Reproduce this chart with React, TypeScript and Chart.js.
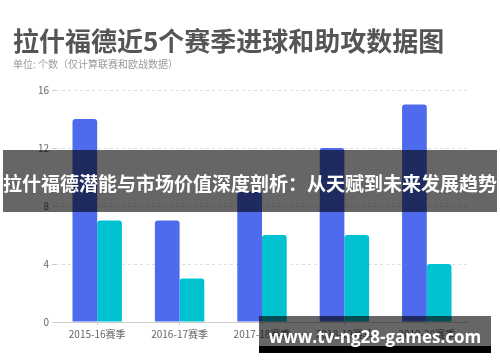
import React, { useEffect, useRef } from "react";
import { Chart, registerables } from "chart.js";

Chart.register(...registerables);

const seasons = ["2015-16赛季", "2016-17赛季", "2017-18赛季", "2018-19赛季", "2019-20赛季"];
const goals = [14, 7, 9, 12, 15];
const assists = [7, 3, 6, 6, 4];
const yTicks = [0, 4, 8, 12, 16];

const titleText = "拉什福德近5个赛季进球和助攻数据图";
const subtitleText = "单位: 个数（仅计算联赛和欧战数据）";
const bannerText = "拉什福德潜能与市场价值深度剖析：从天赋到未来发展趋势";
const siteText = "www.tv-ng28-games.com";

const CJK = '"Noto Sans CJK SC", "Noto Sans", sans-serif';

export default function App() {
  const ref = useRef<HTMLCanvasElement | null>(null);

  useEffect(() => {
    document.body.style.margin = "0";
    const canvas = ref.current;
    if (!canvas) return;
    const chart = new Chart(canvas, {
      type: "bar",
      data: {
        labels: seasons,
        datasets: [
          {
            label: "进球",
            data: goals,
            backgroundColor: "#4F6BED",
            borderRadius: { topLeft: 3, topRight: 3, bottomLeft: 0, bottomRight: 0 },
            borderSkipped: false,
            categoryPercentage: 0.6,
            barPercentage: 1.0,
          },
          {
            label: "助攻",
            data: assists,
            backgroundColor: "#00C2D1",
            borderRadius: { topLeft: 3, topRight: 3, bottomLeft: 0, bottomRight: 0 },
            borderSkipped: false,
            categoryPercentage: 0.6,
            barPercentage: 1.0,
          },
        ],
      },
      options: {
        animation: false,
        responsive: false,
        maintainAspectRatio: false,
        layout: { padding: { top: 90, right: 32, bottom: 0, left: 0 } },
        plugins: {
          legend: { display: false },
          tooltip: { enabled: false },
          title: { display: false },
        },
        scales: {
          x: {
            grid: {
              display: true,
              drawOnChartArea: false,
              drawTicks: true,
              tickLength: 3,
              offset: false,
              color: "#cccccc",
            },
            border: { display: true, color: "#cccccc", width: 1 },
            ticks: {
              color: "#666666",
              font: { family: CJK, size: 10 },
              padding: 3,
              maxRotation: 0,
              autoSkip: false,
            },
            afterFit: (scale: any) => {
              scale.height = 40;
            },
          },
          y: {
            min: 0,
            max: 16,
            afterBuildTicks: (scale: any) => {
              scale.ticks = yTicks.map((v) => ({ value: v }));
            },
            grid: {
              color: "#dddddd",
              tickLength: 4,
              drawTicks: true,
              tickColor: "#cccccc",
            },
            border: { display: false, dash: [3, 3] },
            ticks: {
              color: "#666666",
              font: { family: CJK, size: 10 },
              padding: 3,
            },
            afterFit: (scale: any) => {
              scale.width = 56;
            },
          },
        },
      },
    });
    return () => chart.destroy();
  }, []);

  return (
    <div style={{ position: "fixed", left: 0, top: 0, width: 500, height: 362, background: "#ffffff", overflow: "hidden" }}>
      <canvas ref={ref} width={500} height={362} style={{ position: "absolute", left: 0, top: 0, width: 500, height: 362 }} />
      <div
        style={{
          position: "absolute",
          left: 13,
          top: 27,
          fontFamily: CJK,
          fontWeight: 700,
          fontSize: 26,
          lineHeight: "26px",
          color: "#555555",
          whiteSpace: "nowrap",
        }}
      >
        {titleText}
      </div>
      <div
        style={{
          position: "absolute",
          left: 13,
          top: 59,
          fontFamily: CJK,
          fontSize: 10,
          lineHeight: "10px",
          color: "#9a9a9a",
          whiteSpace: "nowrap",
        }}
      >
        {subtitleText}
      </div>
      <div
        style={{
          position: "absolute",
          left: 3,
          top: 150,
          width: 494,
          height: 62,
          background: "rgba(0,0,0,0.6)",
        }}
      >
        <div
          style={{
            position: "absolute",
            left: 0,
            top: 22,
            width: 494,
            fontFamily: CJK,
            fontWeight: 700,
            fontSize: 19,
            lineHeight: "22px",
            color: "#ffffff",
            whiteSpace: "nowrap",
            textAlign: "center",
          }}
        >
          {bannerText}
        </div>
      </div>
      <div
        style={{
          position: "absolute",
          left: 259,
          top: 316,
          width: 232,
          height: 37,
          background: "linear-gradient(to bottom, rgba(0,0,0,0.6) 0px, rgba(0,0,0,0.6) 30px, #000000 30px, #000000 37px)",
        }}
      >
        <div
          style={{
            position: "absolute",
            left: 0,
            top: 11,
            width: 232,
            textAlign: "center",
            fontFamily: '"Open Sans", sans-serif',
            fontWeight: 700,
            fontSize: 17,
            lineHeight: "20px",
            color: "#ffffff",
            whiteSpace: "nowrap",
          }}
        >
          {siteText}
        </div>
      </div>
    </div>
  );
}
